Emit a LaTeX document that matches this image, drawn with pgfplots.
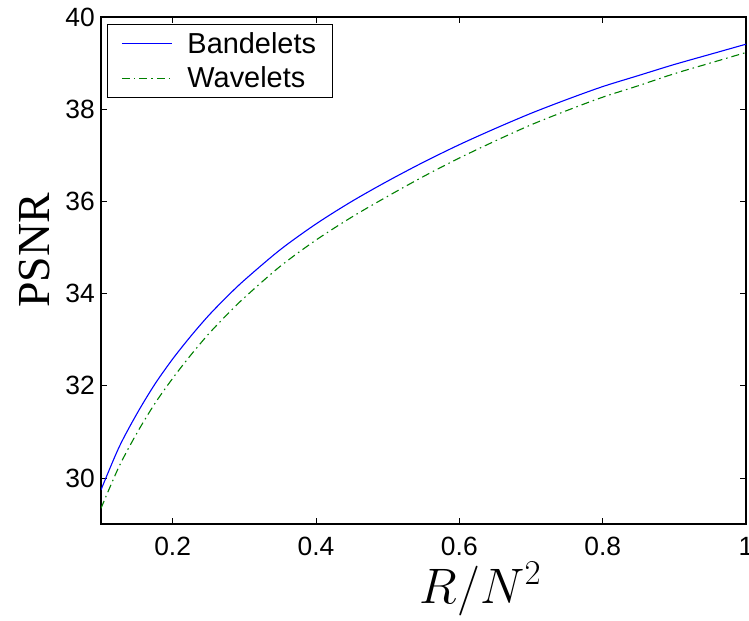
\RequirePackage{fix-cm}
\documentclass[border=0pt]{standalone}
\usepackage{fontspec}
\setmainfont{Liberation Sans}
\newfontfamily\seriffont{Liberation Serif}
\usepackage{pgfplots}
\pgfplotsset{compat=1.18}
\pgfplotsset{legend image code/.code={\draw[#1] (0bp,0bp) -- (50bp,0bp);}}
\definecolor{mgreen}{rgb}{0,0.5,0}
\begin{document}
\begin{tikzpicture}
\begin{axis}[
  scale only axis,
  width=645bp, height=507bp,
  xmin=0.1, xmax=1, ymin=29, ymax=40,
  xtick={0.2,0.4,0.6,0.8,1},
  xticklabels={0.2,0.4,0.6,0.8,1},
  ytick={30,32,34,36,38,40},
  tick align=inside,
  major tick length=6bp,
  tick style={black, line width=0.8bp},
  axis line style={black, line width=1.1bp},
  /pgf/number format/assume math mode=true,
  tick label style={font=\fontsize{26.5}{30}\selectfont},
  yticklabel style={inner xsep=0pt, xshift=-6bp},
  xticklabel style={inner ysep=0pt, yshift=-13bp},
  xlabel={$R/N^2$},
  ylabel={\seriffont PSNR},
  xlabel style={font=\fontsize{50}{54}\selectfont, at={(axis description cs:0.5884,-0.1558)}, anchor=base},
  ylabel style={font=\fontsize{46}{50}\selectfont, at={(axis description cs:-0.1023,0.54)}, anchor=center},
  legend style={at={(axis description cs:0.0093,0.986)}, anchor=north west,
    draw=black, line width=0.8bp, font=\fontsize{29}{33}\selectfont,
    inner xsep=14bp, inner ysep=2bp, row sep=0bp,
    nodes={inner xsep=2bp, inner ysep=6bp},
    /tikz/every odd column/.append style={column sep=13bp}},
  legend cell align=left,
]
\addplot[blue, line width=1.1bp, smooth] coordinates {
 (0.1,29.74) (0.125,30.66) (0.15,31.39) (0.175,32.03) (0.2,32.58) (0.225,33.07) (0.25,33.52) (0.275,33.92) (0.3,34.29) (0.35,34.95)
 (0.4,35.51) (0.45,36.0) (0.5,36.44) (0.55,36.85) (0.6,37.23) (0.65,37.58)
 (0.7,37.91) (0.75,38.21) (0.8,38.49) (0.85,38.73) (0.9,38.97) (0.95,39.19) (1.0,39.41)};
\addlegendentry{Bandelets}
\addplot[mgreen, line width=1.1bp, smooth, dash pattern=on 8bp off 4bp on 1.5bp off 4bp] coordinates {
 (0.1,29.34) (0.125,30.24) (0.15,30.97) (0.175,31.61) (0.2,32.16) (0.225,32.66) (0.25,33.12) (0.275,33.53) (0.3,33.91) (0.35,34.59)
 (0.4,35.16) (0.45,35.66) (0.5,36.11) (0.55,36.54) (0.6,36.94) (0.65,37.31)
 (0.7,37.66) (0.75,37.97) (0.8,38.26) (0.85,38.51) (0.9,38.77) (0.95,39.0) (1.0,39.23)};
\addlegendentry{Wavelets}
\end{axis}
\pgfresetboundingbox
\path ([xshift=-101bp,yshift=-96bp]current axis.south west) rectangle ([xshift=3bp,yshift=17bp]current axis.north east);
\end{tikzpicture}
\end{document}
